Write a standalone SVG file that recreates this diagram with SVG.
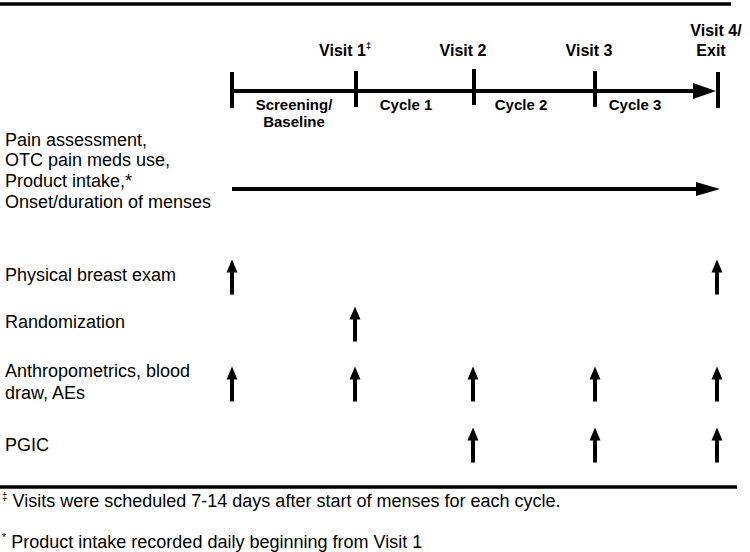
<svg xmlns="http://www.w3.org/2000/svg" width="750" height="552" viewBox="0 0 750 552">
<defs>
<style>
.lbl{font-family:"Liberation Sans",Arial,sans-serif;font-size:18px;fill:#000}
.vis{font-family:"Liberation Sans",Arial,sans-serif;font-size:16px;font-weight:bold;fill:#000;text-anchor:middle}
.cyc{font-family:"Liberation Sans",Arial,sans-serif;font-size:15px;font-weight:bold;fill:#000;text-anchor:middle}
.ln{stroke:#000;stroke-width:4;fill:none}
.rule{stroke:#000;stroke-width:3.5;fill:none}
.tick{stroke:#000;stroke-width:4}
</style>
<g id="up">
<path d="M0,-17.5 L-5.5,-4.5 L-2,-4.5 L-2,17.5 L2,17.5 L2,-4.5 L5.5,-4.5 Z" fill="#000"/>
</g>
</defs>
<rect width="750" height="552" fill="#fff"/>
<g id="rules">
<line x1="0" y1="4" x2="731" y2="4" class="rule"/>
<line x1="0" y1="487" x2="737" y2="487" class="rule"/>
</g>
<g id="timeline">
<line x1="232" y1="91" x2="696" y2="91" class="ln"/>
<path d="M693,83 L716,91 L693,99 Z" fill="#000"/>
<line x1="232" y1="72" x2="232" y2="108" class="tick"/>
<line x1="356" y1="71" x2="356" y2="107" class="tick"/>
<line x1="474" y1="69" x2="474" y2="105" class="tick"/>
<line x1="595" y1="71" x2="595" y2="107" class="tick"/>
<line x1="718" y1="72" x2="718" y2="108" class="tick"/>
</g>
<g id="visits">
<text x="345" y="56" class="vis">Visit 1<tspan font-size="9" dy="-7">‡</tspan></text>
<text x="463" y="56" class="vis">Visit 2</text>
<text x="589" y="56" class="vis">Visit 3</text>
<text x="716" y="36" class="vis">Visit 4/</text>
<text x="711" y="56" class="vis">Exit</text>
</g>
<g id="cycles">
<text x="294" y="110" class="cyc">Screening/</text>
<text x="294" y="127" class="cyc">Baseline</text>
<text x="406" y="110" class="cyc">Cycle 1</text>
<text x="521" y="110" class="cyc">Cycle 2</text>
<text x="635" y="110" class="cyc">Cycle 3</text>
</g>
<g id="row-pain">
<text class="lbl" x="5" y="146">Pain assessment,</text>
<text class="lbl" x="5" y="166">OTC pain meds use,</text>
<text class="lbl" x="5" y="187">Product intake,*</text>
<text class="lbl" x="5" y="208">Onset/duration of menses</text>
</g>
<g id="row-breast"><text class="lbl" x="5" y="281">Physical breast exam</text></g>
<g id="row-random"><text class="lbl" x="5" y="328">Randomization</text></g>
<g id="row-anthro">
<text class="lbl" x="5" y="377">Anthropometrics, blood</text>
<text class="lbl" x="5" y="399">draw, AEs</text>
</g>
<g id="row-pgic"><text class="lbl" x="5" y="451">PGIC</text></g>
<g id="connectors">
<line x1="232" y1="189" x2="697" y2="189" class="ln"/>
<path d="M696,182 L720,189 L696,196 Z" fill="#000"/>
<use href="#up" x="232" y="277"/>
<use href="#up" x="717" y="277"/>
<use href="#up" x="355" y="324"/>
<use href="#up" x="232" y="384"/>
<use href="#up" x="355" y="384"/>
<use href="#up" x="473" y="384"/>
<use href="#up" x="595" y="384"/>
<use href="#up" x="717" y="384"/>
<use href="#up" x="473" y="445"/>
<use href="#up" x="595" y="445"/>
<use href="#up" x="717" y="445"/>
</g>
<g id="footnotes">
<text class="lbl" x="2" y="507"><tspan font-size="10" dy="-7">‡</tspan><tspan dy="7"> Visits were scheduled 7-14 days after start of menses for each cycle.</tspan></text>
<text class="lbl" x="2" y="548"><tspan font-size="11" dy="-7">*</tspan><tspan dy="7"> Product intake recorded daily beginning from Visit 1</tspan></text>
</g>
</svg>
